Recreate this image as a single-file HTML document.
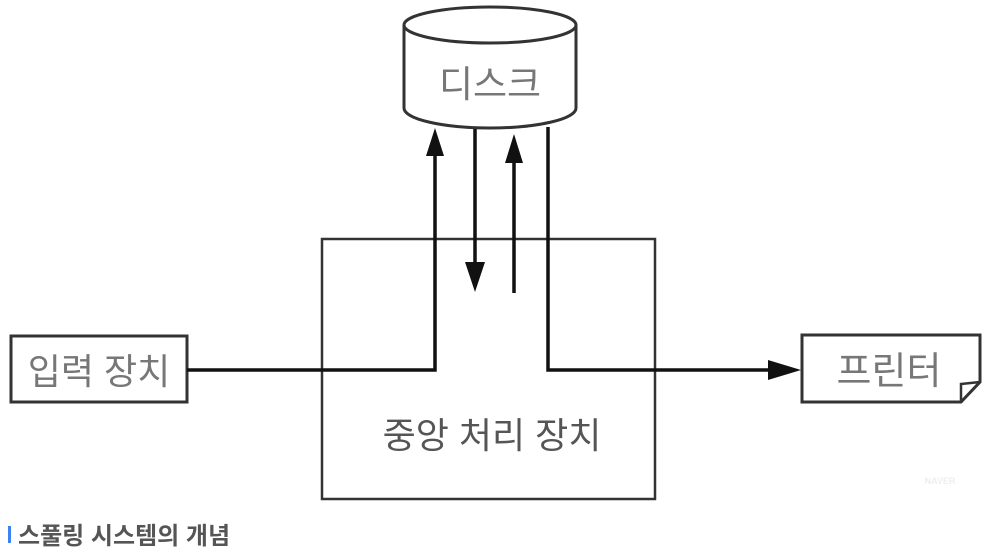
<!DOCTYPE html>
<html><head><meta charset="utf-8"><style>
html,body{margin:0;padding:0;background:#fff;width:990px;height:552px;overflow:hidden}
svg{display:block}
text{font-family:"Liberation Sans","Noto Sans CJK KR","NanumGothic",sans-serif}
</style></head><body>
<svg width="990" height="552" viewBox="0 0 990 552" xmlns="http://www.w3.org/2000/svg">
<rect x="322" y="239" width="333" height="260" fill="none" stroke="#333" stroke-width="2.5"/>
<text x="492" y="448" font-size="36" fill="#555" text-anchor="middle">중앙 처리 장치</text>
<path d="M404 25 L404 108 A86 20 0 0 0 576 108 L576 25" fill="#fff" stroke="#333" stroke-width="3"/>
<ellipse cx="490" cy="25" rx="86" ry="18" fill="#fff" stroke="#333" stroke-width="3"/>
<text x="490" y="97" font-size="37" fill="#777" text-anchor="middle">디스크</text>
<rect x="11" y="336" width="176" height="66" fill="#fff" stroke="#333" stroke-width="3"/>
<text x="99" y="384" font-size="36" fill="#777" text-anchor="middle">입력 장치</text>
<path d="M802 335 L980 335 L980 382 L961 402 L802 402 Z" fill="#fff" stroke="#333" stroke-width="3"/>
<path d="M961 402 L961 384 L980 382" fill="none" stroke="#333" stroke-width="2.5"/>
<text x="889" y="384" font-size="38" fill="#777" text-anchor="middle">프린터</text>
<g stroke="#111" stroke-width="3.5" fill="none">
<polyline points="187,370 435,370 435,150"/>
<line x1="475" y1="129" x2="475" y2="268"/>
<line x1="514" y1="293" x2="514" y2="160"/>
<polyline points="548,127 548,370 775,370"/>
</g>
<g fill="#111">
<polygon points="435,128 426,156 444,156"/>
<polygon points="475,292 465,262 485,262"/>
<polygon points="514,134 505,163 523,163"/>
<polygon points="801,370 768,360 768,380"/>
</g>
<rect x="8" y="526" width="3" height="17" fill="#3b82f6"/>
<text x="18" y="544" font-size="24" font-weight="bold" fill="#555">스풀링 시스템의 개념</text>
<text x="940" y="484" font-size="9" fill="#eee" text-anchor="middle" font-weight="bold">NAVER</text>
</svg>
</body></html>
